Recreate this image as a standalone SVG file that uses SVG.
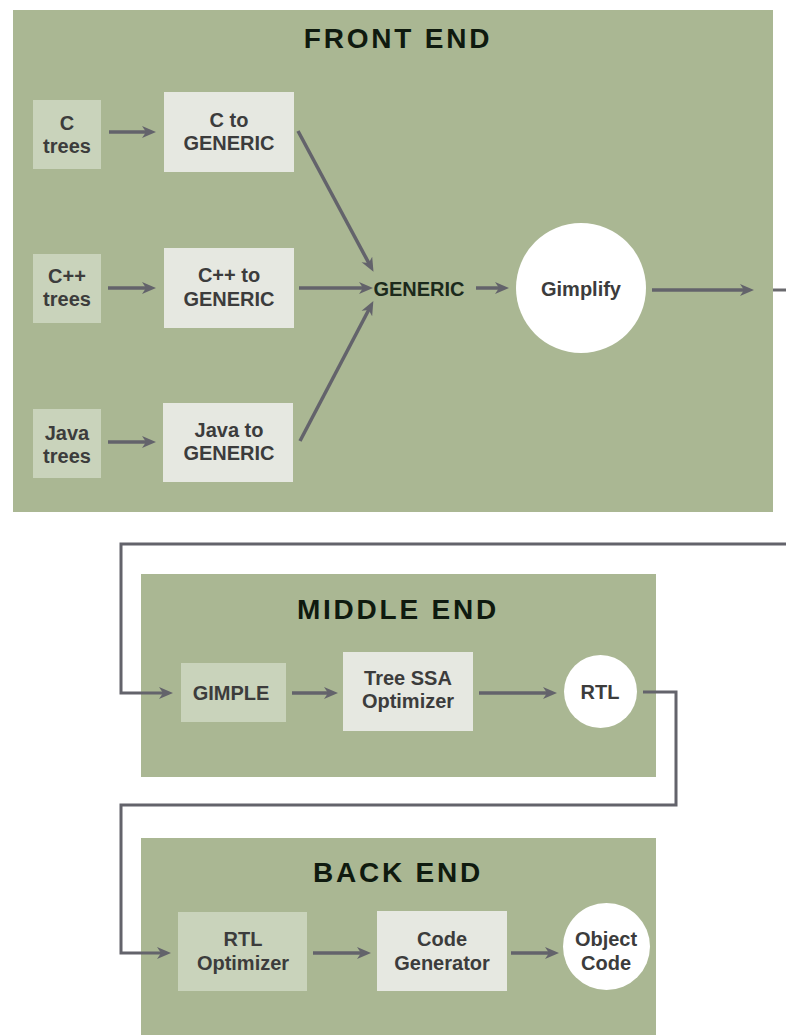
<svg xmlns="http://www.w3.org/2000/svg" width="786" height="1035" viewBox="0 0 786 1035">
<style>
.panel{fill:#aab793}
.box1{fill:#c9d3bb}
.box2{fill:#e6e8e1}
.circ{fill:#ffffff}
.title{font-family:"Liberation Sans",Arial,sans-serif;font-weight:bold;font-size:28px;fill:#0f1a0f;letter-spacing:2.8px;text-anchor:middle}
.lbl{font-family:"Liberation Sans",Arial,sans-serif;font-weight:bold;font-size:20px;fill:#3c3c3c;text-anchor:middle}
.gen{font-family:"Liberation Sans",Arial,sans-serif;font-weight:bold;font-size:20px;fill:#1c2a1c;text-anchor:middle}
.arr{fill:none;stroke:#63636b;stroke-width:3.5;marker-end:url(#ah)}
.loop{fill:none;stroke:#6a6a6e;stroke-width:3}
</style>
<defs>
<marker id="ah" markerUnits="userSpaceOnUse" markerWidth="16" markerHeight="14" refX="7" refY="7" orient="auto">
<path d="M0,1 L14,7 L0,13 L4,7 Z" fill="#63636b"/>
</marker>
</defs>
<rect width="786" height="1035" fill="#ffffff"/>

<g id="front-end">
<rect class="panel" x="13" y="10" width="760" height="502"/>
<text class="title" x="398" y="48">FRONT END</text>
</g>
<g id="middle-end">
<rect class="panel" x="141" y="574" width="515" height="203"/>
<text class="title" x="398" y="619">MIDDLE END</text>
</g>
<g id="back-end">
<rect class="panel" x="141" y="838" width="515" height="197"/>
<text class="title" x="398" y="882">BACK END</text>
</g>

<g id="c-trees">
<rect class="box1" x="33" y="100" width="68" height="69"/>
<text class="lbl" x="67" y="130">C<tspan x="67" dy="23">trees</tspan></text>
</g>
<g id="cpp-trees">
<rect class="box1" x="33" y="254" width="68" height="69"/>
<text class="lbl" x="67" y="283">C++<tspan x="67" dy="23">trees</tspan></text>
</g>
<g id="java-trees">
<rect class="box1" x="33" y="409" width="68" height="69"/>
<text class="lbl" x="67" y="440">Java<tspan x="67" dy="23">trees</tspan></text>
</g>
<g id="c-to-generic">
<rect class="box2" x="164" y="92" width="130" height="80"/>
<text class="lbl" x="229" y="127">C to<tspan x="229" dy="23">GENERIC</tspan></text>
</g>
<g id="cpp-to-generic">
<rect class="box2" x="164" y="248" width="130" height="80"/>
<text class="lbl" x="229" y="282">C++ to<tspan x="229" dy="24">GENERIC</tspan></text>
</g>
<g id="java-to-generic">
<rect class="box2" x="163" y="403" width="130" height="79"/>
<text class="lbl" x="229" y="437">Java to<tspan x="229" dy="23">GENERIC</tspan></text>
</g>
<g id="generic">
<text class="gen" x="419" y="296">GENERIC</text>
</g>
<g id="gimplify">
<circle class="circ" cx="581" cy="288" r="65"/>
<text class="lbl" x="581" y="296">Gimplify</text>
</g>

<g id="gimple">
<rect class="box1" x="181" y="663" width="105" height="59"/>
<text class="lbl" x="231" y="700">GIMPLE</text>
</g>
<g id="tree-ssa">
<rect class="box2" x="343" y="652" width="130" height="79"/>
<text class="lbl" x="408" y="685">Tree SSA<tspan x="408" dy="23">Optimizer</tspan></text>
</g>
<g id="rtl">
<ellipse class="circ" cx="600.5" cy="691.5" rx="36.5" ry="36.5"/>
<text class="lbl" x="600" y="699">RTL</text>
</g>

<g id="rtl-optimizer">
<rect class="box1" x="178" y="912" width="129" height="79"/>
<text class="lbl" x="243" y="946">RTL<tspan x="243" dy="24">Optimizer</tspan></text>
</g>
<g id="code-generator">
<rect class="box2" x="377" y="911" width="130" height="80"/>
<text class="lbl" x="442" y="946">Code<tspan x="442" dy="24">Generator</tspan></text>
</g>
<g id="object-code">
<circle class="circ" cx="606.5" cy="946.5" r="43.5"/>
<text class="lbl" x="606" y="946">Object<tspan x="606" dy="24">Code</tspan></text>
</g>

<g id="connectors">
<path class="arr" d="M109,132 H149"/>
<path class="arr" d="M108,288 H149"/>
<path class="arr" d="M108,442 H149"/>
<path class="arr" d="M298,131 L370.2,265.7"/>
<path class="arr" d="M299,288 H366"/>
<path class="arr" d="M300,441 L370.1,307.3"/>
<path class="arr" d="M476,288 H502"/>
<path class="arr" d="M652,290 H747"/>
<path class="loop" d="M773,290 H786"/>
<path class="arr" d="M786,544 H121 V693 H166" style="stroke-width:3"/>
<path class="arr" d="M292,693 H331"/>
<path class="arr" d="M479,693 H550"/>
<path class="arr" d="M643,692 H676 V805 H121 V953 H164" style="stroke-width:3"/>
<path class="arr" d="M313,953 H364"/>
<path class="arr" d="M511,953 H552"/>
</g>
</svg>
